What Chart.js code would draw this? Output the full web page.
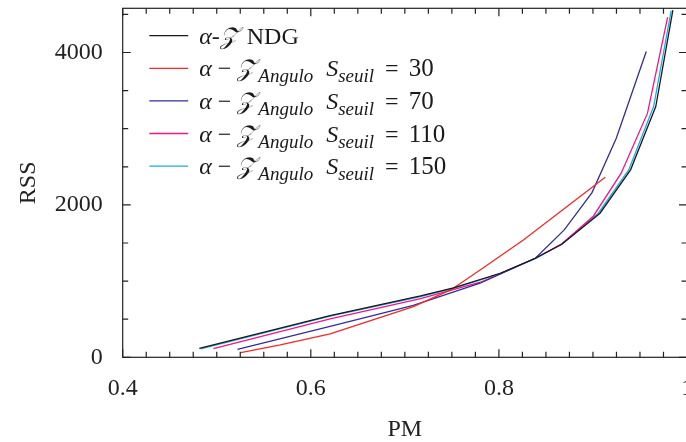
<!DOCTYPE html>
<html>
<head>
<meta charset="utf-8">
<script src="https://cdn.jsdelivr.net/npm/chart.js@4.4.0/dist/chart.umd.min.js"></script>
<style>
  html, body { margin: 0; padding: 0; overflow: hidden; background: #fff; }
  #wrap { width: 700px; height: 442px; }
</style>
</head>
<body>
<div id="wrap"><canvas id="rssChart"></canvas></div>
<script>
// points : PM en x, RSS en y
var ndgPM    = [0.4815, 0.6205, 0.7167, 0.7517, 0.8014, 0.8387, 0.867, 0.9075, 0.9400, 0.9668, 0.9850];
var ndgRSS   = [118, 548, 805, 910, 1103, 1300, 1484, 1891, 2460, 3291, 4555];

var s30PM    = [0.5255, 0.5675, 0.6205, 0.709, 0.7487, 0.780, 0.826, 0.913];
var s30RSS   = [60, 162, 306, 665, 884, 1146, 1540, 2364];

var s70PM    = [0.522, 0.6205, 0.709, 0.780, 0.8387, 0.8695, 0.899, 0.9248, 0.9567];
var s70RSS   = [105, 406, 680, 972, 1300, 1672, 2161, 2876, 4013];

var s110PM   = [0.4964, 0.6205, 0.7167, 0.7803, 0.8387, 0.867, 0.9006, 0.930, 0.958, 0.9794];
var s110RSS  = [113, 505, 770, 985, 1300, 1490, 1855, 2416, 3204, 4465];

var s150PM   = [0.4830, 0.6205, 0.7167, 0.7517, 0.8014, 0.8387, 0.866, 0.9055, 0.9380, 0.9645, 0.9832];
var s150RSS  = [112, 540, 798, 904, 1098, 1296, 1480, 1888, 2458, 3290, 4551];

var seuils   = [30, 70, 110, 150];
var couleurs = ['#1a1a1a', '#f22a2a', '#2f2f97', '#ee168c', '#22a8e4'];

var xTicks = [0.4, 0.6, 0.8, 1];
var yTicks = [0, 2000, 4000];

var police = '"Liberation Serif", "DejaVu Serif", serif';

function points(xs, ys) {
    return xs.map(function(x, i){ return { x: x, y: ys[i] }; });
}

// morceaux du texte de légende (italique, indice...)
function partsNDG() {
    return [
        { t: 'α', st: 'i' }, { t: '-', st: 'r' }, { t: '𝒵', st: 'z', gap: 3 }, { t: ' NDG', st: 'r' }
    ];
}
function partsSeuil(s) {
    return [
        { t: 'α', st: 'i' }, { t: ' − ', st: 'r' }, { t: '𝒵', st: 'z', gap: 3 },
        { t: 'Angulo', st: 'sub', gap: 7 }, { t: ' ', st: 'r' },
        { t: 'S', st: 'i' }, { t: 'seuil', st: 'sub', gap: 5 },
        { t: ' = ', st: 'r', gap: 4 }, { t: String(s), st: 'n' }
    ];
}

var series = [
    { label: 'α-𝒵 NDG', parts: partsNDG(), data: points(ndgPM, ndgRSS) },
    { label: 'α − 𝒵Angulo Sseuil = ' + seuils[0], parts: partsSeuil(seuils[0]), data: points(s30PM, s30RSS) },
    { label: 'α − 𝒵Angulo Sseuil = ' + seuils[1], parts: partsSeuil(seuils[1]), data: points(s70PM, s70RSS) },
    { label: 'α − 𝒵Angulo Sseuil = ' + seuils[2], parts: partsSeuil(seuils[2]), data: points(s110PM, s110RSS) },
    { label: 'α − 𝒵Angulo Sseuil = ' + seuils[3], parts: partsSeuil(seuils[3]), data: points(s150PM, s150RSS) }
];

var datasets = series.map(function(s, i){
    return {
        label: s.label,
        parts: s.parts,
        data: s.data,
        borderColor: couleurs[i],
        backgroundColor: couleurs[i],
        borderWidth: 1.3,
        pointRadius: 0,
        showLine: true,
        fill: false,
        tension: 0
    };
});

// cadre + graduations vers l'intérieur sur les quatre côtés
var cadre = {
    id: 'cadre',
    afterDatasetsDraw: function(chart) {
        var ctx = chart.ctx, a = chart.chartArea;
        var sx = chart.scales.x, sy = chart.scales.y;
        ctx.save();
        ctx.strokeStyle = '#222';
        ctx.lineWidth = 1.2;
        ctx.strokeRect(a.left, a.top, a.right - a.left, a.bottom - a.top);
        ctx.beginPath();
        for (var i = 0; i <= 24; i++) {
            var px = sx.getPixelForValue(0.4 + i * 0.025);
            var len = (i % 8 === 0) ? 8 : 5.5;
            ctx.moveTo(px, a.bottom); ctx.lineTo(px, a.bottom - len);
            ctx.moveTo(px, a.top);    ctx.lineTo(px, a.top + len);
        }
        for (var v = 0; v <= sy.max; v += 500) {
            var py = sy.getPixelForValue(v);
            var l = (v % 2000 === 0) ? 8 : 5.5;
            ctx.moveTo(a.left, py);  ctx.lineTo(a.left + l, py);
            ctx.moveTo(a.right, py); ctx.lineTo(a.right - l, py);
        }
        ctx.stroke();
        ctx.restore();
    }
};

var legende = {
    id: 'legende',
    afterDraw: function(chart) {
        var ctx = chart.ctx, a = chart.chartArea;
        ctx.save();
        ctx.textBaseline = 'alphabetic';
        ctx.fillStyle = '#1a1a1a';
        chart.data.datasets.forEach(function(ds, i){
            var y = a.top + 27.4 + i * 32.6;
            ctx.strokeStyle = ds.borderColor;
            ctx.lineWidth = 1.3;
            ctx.beginPath();
            ctx.moveTo(a.left + 26.6, y);
            ctx.lineTo(a.left + 65.5, y);
            ctx.stroke();
            var x = a.left + 76.5;
            ds.parts.forEach(function(p){
                var dy = 8;
                if (p.st === 'i' || p.st === 'z') ctx.font = 'italic 24px ' + police;
                else if (p.st === 'sub') { ctx.font = 'italic 19px ' + police; dy = 14; }
                else if (p.st === 'n') ctx.font = '25px ' + police;
                else ctx.font = '24px ' + police;
                ctx.fillText(p.t, x, y + dy);
                x += ctx.measureText(p.t).width + (p.gap || 0);
            });
        });
        ctx.restore();
    }
};

new Chart(document.getElementById('rssChart').getContext('2d'), {
    type: 'scatter',
    data: { datasets: datasets },
    options: {
        responsive: true,
        maintainAspectRatio: false,
        animation: false,
        layout: { padding: { left: 0, right: 13, top: 8.3, bottom: 0 } },
        plugins: {
            legend: { display: false },
            tooltip: { enabled: false }
        },
        scales: {
            x: {
                type: 'linear',
                min: 0.4,
                max: 1,
                afterBuildTicks: function(scale){
                    scale.ticks = xTicks.map(function(v){ return { value: v }; });
                },
                afterFit: function(scale){
                    scale.height = 84.7;
                    scale.paddingLeft = 0;
                    scale.paddingRight = 0;
                },
                grid: { display: false, drawTicks: false, tickLength: 0 },
                border: { display: false },
                ticks: {
                    padding: 17.5,
                    color: '#222',
                    font: { family: police, size: 24 },
                    maxRotation: 0,
                    callback: function(v){ return String(Number(v.toFixed(1))); }
                },
                title: {
                    display: true,
                    text: 'PM',
                    color: '#222',
                    font: { family: police, size: 24, lineHeight: 1 },
                    padding: { top: 17, bottom: 0 }
                }
            },
            y: {
                type: 'linear',
                min: 0,
                max: 4580,
                afterBuildTicks: function(scale){
                    scale.ticks = yTicks.map(function(v){ return { value: v }; });
                },
                afterFit: function(scale){
                    scale.width = 122.7;
                    scale.paddingTop = 0;
                    scale.paddingBottom = 0;
                },
                grid: { display: false, drawTicks: false, tickLength: 0 },
                border: { display: false },
                ticks: {
                    padding: 20,
                    color: '#222',
                    font: { family: police, size: 24 },
                    callback: function(v){ return String(v); }
                },
                title: {
                    display: true,
                    text: 'RSS',
                    color: '#222',
                    font: { family: police, size: 24, lineHeight: 1.2 },
                    padding: { top: 14, bottom: 11 }
                }
            }
        }
    },
    plugins: [cadre, legende]
});
</script>
</body>
</html>
